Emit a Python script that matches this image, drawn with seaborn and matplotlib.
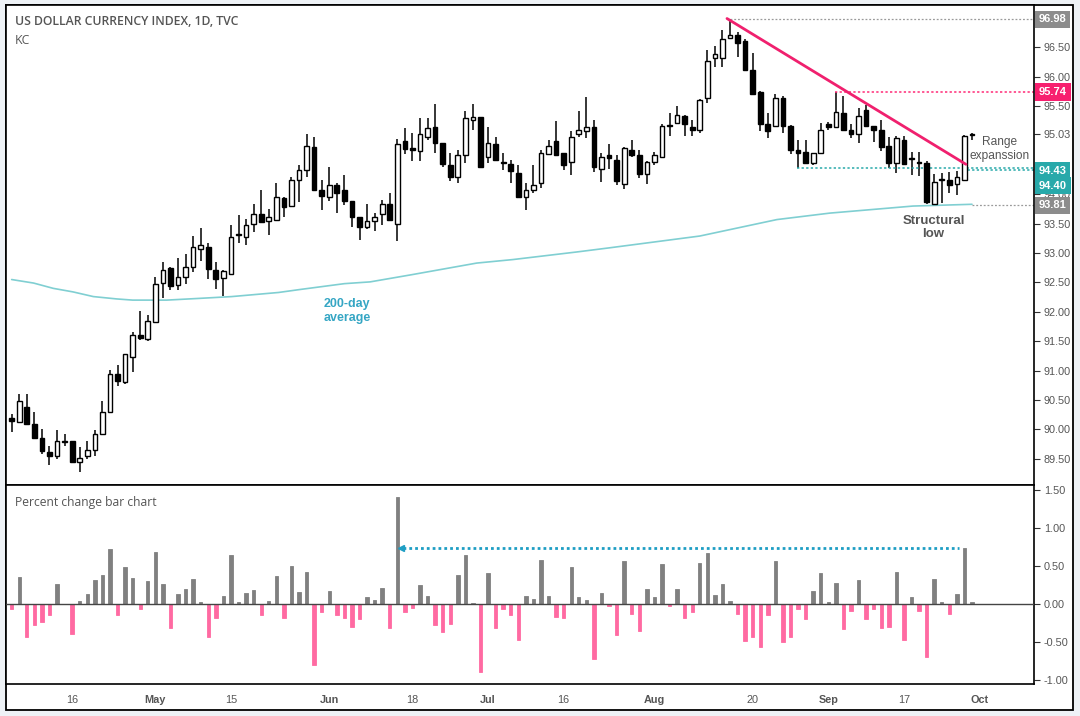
import numpy as np
import pandas as pd
import matplotlib.pyplot as plt
import matplotlib.transforms as mtransforms
from matplotlib.patches import Rectangle
import seaborn as sns

sns.set_style("white")
plt.rcParams['font.family'] = ['Liberation Sans', 'DejaVu Sans']

# ----------------------------
# Data, daily bars from 4 Apr 2018
# ----------------------------
opens = [90.19, 90.12, 90.39, 90.09, 89.85, 89.61, 89.54, 89.80, 89.80, 89.44,
         89.54, 89.65, 89.93, 90.29, 90.95, 90.80, 91.23, 91.60, 91.54, 91.82,
         92.49, 92.74, 92.45, 92.59, 92.77, 93.07, 93.10, 92.71, 92.57, 92.65,
         93.30, 93.27, 93.50, 93.67, 93.54, 93.56, 93.93, 93.80, 94.25, 94.41,
         94.81, 94.07, 93.95, 94.15, 94.07, 93.88, 93.61, 93.45, 93.54, 93.67,
         93.83, 93.50, 94.90, 94.78, 94.73, 94.97, 95.14, 94.87, 94.49, 94.29,
         94.66, 95.27, 95.31, 94.63, 94.85, 94.55, 94.51, 94.37, 93.96, 94.07,
         94.20, 94.69, 94.90, 94.70, 94.55, 95.03, 95.07, 95.14, 94.43, 94.66,
         94.59, 94.17, 94.76, 94.66, 94.34, 94.55, 94.63, 95.18, 95.21, 95.34,
         95.14, 95.10, 95.63, 96.31, 96.31, 96.66, 96.71, 96.61, 96.12, 95.74,
         95.20, 95.17, 95.63, 95.17, 94.76, 94.72, 94.53, 94.70, 95.19, 95.14,
         95.39, 95.10, 95.02, 95.43, 95.16, 95.10, 94.83, 94.53, 94.93, 94.60,
         94.55, 94.54, 93.83, 94.24, 94.25, 94.17, 94.24, 95.01]
highs = [90.26, 90.61, 90.61, 90.29, 90.00, 89.71, 89.99, 89.92, 89.81, 89.70,
         89.80, 89.99, 90.49, 91.01, 91.10, 91.29, 91.66, 92.01, 91.94, 92.59,
         92.85, 92.77, 92.91, 92.98, 93.29, 93.43, 93.18, 92.85, 92.71, 93.48,
         93.65, 93.58, 93.83, 94.07, 93.75, 94.19, 93.96, 94.30, 94.50, 95.03,
         94.97, 94.25, 94.46, 94.20, 94.32, 93.89, 93.62, 93.83, 93.69, 93.91,
         94.03, 94.94, 95.12, 95.05, 95.29, 95.29, 95.53, 94.88, 94.70, 94.76,
         95.41, 95.53, 95.32, 95.14, 94.98, 94.71, 94.59, 94.49, 94.20, 94.49,
         94.76, 94.93, 95.24, 94.71, 95.07, 95.42, 95.65, 95.27, 94.70, 94.86,
         94.66, 94.80, 94.92, 94.76, 94.57, 94.72, 95.19, 95.38, 95.51, 95.35,
         95.26, 95.62, 96.45, 96.52, 96.79, 96.98, 96.76, 96.65, 96.40, 95.76,
         95.38, 95.70, 95.68, 95.18, 94.92, 94.92, 94.71, 95.22, 95.23, 95.74,
         95.68, 95.20, 95.46, 95.52, 95.17, 95.26, 94.98, 94.99, 94.99, 94.72,
         94.72, 94.56, 94.34, 94.37, 94.38, 94.40, 95.01, 95.05]
lows = [89.96, 90.11, 90.09, 89.85, 89.59, 89.40, 89.49, 89.71, 89.44, 89.27,
        89.49, 89.55, 89.92, 90.28, 90.74, 90.78, 90.98, 91.53, 91.51, 91.81,
        92.24, 92.38, 92.38, 92.48, 92.68, 92.87, 92.56, 92.39, 92.27, 92.64,
        93.17, 93.14, 93.36, 93.52, 93.31, 93.54, 93.62, 93.78, 93.87, 94.30,
        94.06, 93.74, 93.89, 93.69, 93.81, 93.45, 93.23, 93.41, 93.38, 93.48,
        93.55, 93.21, 94.68, 94.56, 94.56, 94.93, 94.70, 94.46, 94.22, 94.19,
        94.54, 95.10, 94.46, 94.54, 94.57, 94.42, 94.20, 93.94, 93.74, 94.03,
        94.11, 94.66, 94.66, 94.42, 94.32, 94.97, 94.95, 94.38, 94.21, 94.43,
        94.16, 94.09, 94.64, 94.28, 94.18, 94.50, 94.62, 94.99, 95.20, 95.00,
        95.00, 95.04, 95.55, 96.16, 96.16, 96.64, 96.33, 96.10, 95.70, 95.08,
        94.95, 95.16, 95.04, 94.68, 94.45, 94.52, 94.49, 94.69, 95.10, 95.13,
        95.09, 94.95, 94.88, 95.15, 94.89, 94.74, 94.45, 94.37, 94.50, 94.33,
        94.31, 93.84, 93.81, 93.86, 94.03, 93.99, 94.23, 94.93]
closes = [90.15, 90.48, 90.10, 89.86, 89.64, 89.54, 89.80, 89.78, 89.45, 89.51,
          89.65, 89.93, 90.29, 90.95, 90.82, 91.28, 91.60, 91.55, 91.84, 92.47,
          92.72, 92.44, 92.59, 92.77, 93.10, 93.13, 92.73, 92.56, 92.69, 93.28,
          93.33, 93.47, 93.67, 93.53, 93.61, 93.95, 93.78, 94.25, 94.42, 94.83,
          94.07, 93.97, 94.15, 94.03, 93.88, 93.62, 93.45, 93.54, 93.61, 93.83,
          93.56, 94.86, 94.77, 94.76, 95.02, 95.12, 94.87, 94.52, 94.29, 94.66,
          95.29, 95.31, 94.47, 94.87, 94.59, 94.53, 94.40, 93.96, 94.08, 94.15,
          94.71, 94.83, 94.67, 94.50, 94.98, 95.09, 95.15, 94.47, 94.63, 94.61,
          94.23, 94.78, 94.66, 94.35, 94.55, 94.66, 95.17, 95.16, 95.35, 95.19,
          95.09, 95.61, 96.26, 96.38, 96.65, 96.71, 96.58, 96.11, 95.71, 95.20,
          95.08, 95.63, 95.17, 94.76, 94.71, 94.53, 94.70, 95.10, 95.14, 95.40,
          95.10, 95.02, 95.34, 95.16, 95.10, 94.81, 94.53, 94.95, 94.51, 94.61,
          94.53, 93.87, 94.21, 94.26, 94.15, 94.29, 94.99, 95.03]

# percent change per bar (lower panel)
pct_change = [-0.07, 0.36, -0.43, -0.28, -0.24, -0.14, 0.26, 0.00, -0.39, 0.04,
              0.13, 0.32, 0.38, 0.72, -0.15, 0.49, 0.34, -0.06, 0.30, 0.68,
              0.26, -0.31, 0.13, 0.20, 0.33, 0.02, -0.44, -0.19, 0.11, 0.64,
              0.02, 0.14, 0.18, -0.14, 0.04, 0.37, -0.19, 0.50, 0.16, 0.42,
              -0.80, -0.11, 0.17, -0.14, -0.18, -0.30, -0.20, 0.09, 0.05, 0.21,
              -0.31, 1.41, -0.10, -0.05, 0.25, 0.11, -0.28, -0.37, -0.26, 0.38,
              0.64, 0.01, -0.90, 0.41, -0.31, -0.07, -0.15, -0.48, 0.11, 0.07,
              0.58, 0.11, -0.17, -0.19, 0.49, 0.09, 0.05, -0.73, 0.14, -0.03,
              -0.41, 0.57, -0.13, -0.35, 0.20, 0.09, 0.53, -0.02, 0.20, -0.19,
              -0.11, 0.54, 0.67, 0.12, 0.26, 0.04, -0.13, -0.49, -0.43, -0.56,
              -0.14, 0.57, -0.50, -0.44, -0.06, -0.20, 0.17, 0.41, 0.02, 0.28,
              -0.33, -0.09, 0.32, -0.20, -0.06, -0.32, -0.30, 0.42, -0.48, 0.09,
              -0.09, -0.70, 0.33, 0.03, -0.13, 0.13, 0.74, 0.03]

# 200-day moving average, read at a few bars
ma_bar = [0, 2.9, 5.5, 8.1, 10.8, 13.9, 16, 20.5, 24.9, 29.1, 35.3, 38.1, 44,
          47.4, 52.8, 61.5, 66.3, 74.8, 79.1, 91, 101.2, 108.2, 119.2, 127]
ma_value = [92.55, 92.49, 92.40, 92.34, 92.26, 92.22, 92.20, 92.20, 92.23, 92.26,
            92.33, 92.38, 92.48, 92.51, 92.63, 92.83, 92.89, 93.02, 93.09, 93.29,
            93.57, 93.68, 93.80, 93.83]

# falling trendline
trend_bar = [94.6, 126.2]
trend_price = [96.99, 94.51]

tick_dates = ['2018-04-16', '2018-05-01', '2018-05-15', '2018-06-01', '2018-06-18',
              '2018-07-02', '2018-07-16', '2018-08-01', '2018-08-20', '2018-09-03',
              '2018-09-17', '2018-10-01']
tick_labels = ['16', 'May', '15', 'Jun', '18', 'Jul', '16', 'Aug', '20', 'Sep', '17', 'Oct']

# ----------------------------
# Prep
# ----------------------------
o = np.array(opens); h = np.array(highs); l = np.array(lows); c = np.array(closes)
bars = np.arange(len(c))
dates = pd.bdate_range('2018-04-04', periods=140)
tick_pos = [dates.get_loc(pd.Timestamp(d)) for d in tick_dates]

pct = pd.DataFrame({'bar': bars, 'pct': pct_change})
pct['colour'] = np.where(pct['pct'] >= 0, '#808080', '#ff6aa2')

GREY_TXT = '#555555'
PINK = '#f0206e'
TEAL = '#28a9aa'

W, H = 1080, 716
fig = plt.figure(figsize=(W / 100, H / 100), dpi=100)
fig.patch.set_facecolor('#eef2f6')
fig.add_artist(Rectangle((6 / W, 1 - 710 / H), 1067 / W, 705 / H, transform=fig.transFigure,
                         facecolor='white', edgecolor='black', lw=1.3, zorder=-1))

ax = fig.add_axes([6 / W, 1 - 485 / H, 1028 / W, 480 / H])
ax2 = fig.add_axes([6 / W, 1 - 684 / H, 1028 / W, 199 / H])
XMIN, XMAX = -0.75, 135.2

# ----------------------------
# Candles
# ----------------------------
up = c >= o
ax.vlines(bars, l, h, color='black', lw=1.1, zorder=2)
ax.bar(bars, np.maximum(np.abs(c - o), 0.012), bottom=np.minimum(o, c), width=0.62,
       color=np.where(up, 'white', 'black'), edgecolor='black', linewidth=1.0, zorder=3)

sns.lineplot(x=ma_bar, y=ma_value, ax=ax, color='#80cfd2', lw=1.2, zorder=1)
ax.plot(trend_bar, trend_price, color=PINK, lw=2, zorder=4, solid_capstyle='round')

dot = (0, (1.5, 1.5))
ax.hlines(96.98, 95, XMAX, colors='#9a9a9a', lw=0.9, linestyles=dot)
ax.hlines(95.74, 108.9, XMAX, colors='#ff2a76', lw=1.1, linestyles=dot)
ax.hlines(94.44, 103.9, XMAX, colors=TEAL, lw=1.1, linestyles=dot)
ax.hlines(94.41, 125.8, XMAX, colors=TEAL, lw=1.1, linestyles=dot)
ax.hlines(93.81, 127, XMAX, colors='#9a9a9a', lw=0.9, linestyles=dot)

ax.set_xlim(XMIN, XMAX)
ax.set_ylim(89.055, 97.22)
ax.set_xticks([])
yt = [89.5, 90.0, 90.5, 91.0, 91.5, 92.0, 92.5, 93.0, 93.5, 94.0, 95.03, 95.5, 96.0, 96.5]
ax.set_yticks(yt)
ax.set_yticklabels([f'{v:.2f}' for v in yt])
ax.yaxis.tick_right()
ax.tick_params(axis='y', direction='out', length=4, width=0.8, color='#333333',
               labelcolor=GREY_TXT, labelsize=7.8, pad=3)
ax.set_xlabel(''); ax.set_ylabel('')

# right-hand price boxes
trans = mtransforms.blended_transform_factory(ax.transAxes, ax.transData)
boxes = [(96.98, '#8c8c8c', 0), (95.74, '#f7206f', 0), (94.43, TEAL, -2), (94.40, TEAL, -15),
         (93.81, '#8c8c8c', 0)]
for price, col, shift in boxes:
    ax.annotate(f'{price:.2f}', xy=(1.0, price), xycoords=trans, xytext=(5, shift),
                textcoords='offset pixels', ha='left', va='center', fontsize=8,
                fontweight='bold', color='white', annotation_clip=False, zorder=10,
                bbox=dict(boxstyle='square,pad=0.32', fc=col, ec='none'))

# text annotations
ax.text(0.0088, 0.9646, 'US DOLLAR CURRENCY INDEX, 1D, TVC', transform=ax.transAxes,
        family=['Open Sans', 'DejaVu Sans'], fontsize=8.8, fontweight='semibold',
        color=GREY_TXT, va='center')
ax.text(0.0088, 0.927, 'KC', transform=ax.transAxes, family=['Open Sans', 'DejaVu Sans'],
        fontsize=8.8, color=GREY_TXT, va='center')
ax.text(121.9, 93.44, 'Structural\nlow', ha='center', va='center', fontsize=9.5,
        fontweight='bold', color=GREY_TXT, linespacing=1.15)
ax.text(130.7, 94.77, 'Range\nexpanssion', ha='center', va='center', fontsize=8.6,
        color=GREY_TXT, linespacing=1.2)
ax.text(44.4, 92.01, '200-day\naverage', ha='center', va='center', fontsize=9,
        fontweight='bold', color='#35a6c4', linespacing=1.2)

# ----------------------------
# Percent change panel
# ----------------------------
ax2.bar(pct['bar'], pct['pct'], width=0.45, color=pct['colour'], edgecolor=pct['colour'],
        linewidth=0.6, zorder=2)
ax2.axhline(0, color='#444444', lw=1, zorder=3)
ax2.hlines(0.74, 51.7, 125.3, colors='#1e9ec4', lw=2, linestyles=(0, (1, 1.1)), zorder=4)
ax2.plot([51.5], [0.74], marker='<', ms=5, color='#1e9ec4', zorder=4)
ax2.text(0.0088, 0.9125, 'Percent change bar chart', transform=ax2.transAxes,
         family=['Open Sans', 'DejaVu Sans'], fontsize=8.7, color=GREY_TXT, va='center')

ax2.set_xlim(XMIN, XMAX)
ax2.set_ylim(-1.053, 1.566)
ax2.yaxis.tick_right()
yt2 = [-1.0, -0.5, 0.0, 0.5, 1.0, 1.5]
ax2.set_yticks(yt2)
ax2.set_yticklabels([f'{v:.2f}' for v in yt2])
ax2.tick_params(axis='y', direction='out', length=4, width=0.8, color='#333333',
                labelcolor=GREY_TXT, labelsize=7.8, pad=3)
ax2.set_xticks(tick_pos)
ax2.set_xticklabels(tick_labels)
ax2.tick_params(axis='x', direction='out', length=4, width=0.8, color='#333333',
                labelcolor=GREY_TXT, labelsize=7.8, pad=4)
for t in ax2.get_xticklabels():
    if not t.get_text().isdigit():
        t.set_fontweight('bold')
ax2.set_xlabel(''); ax2.set_ylabel('')

for a in (ax, ax2):
    for s in a.spines.values():
        s.set_color('black')
        s.set_linewidth(1.2)

fig.savefig('out.png', dpi=100, facecolor=fig.get_facecolor())
